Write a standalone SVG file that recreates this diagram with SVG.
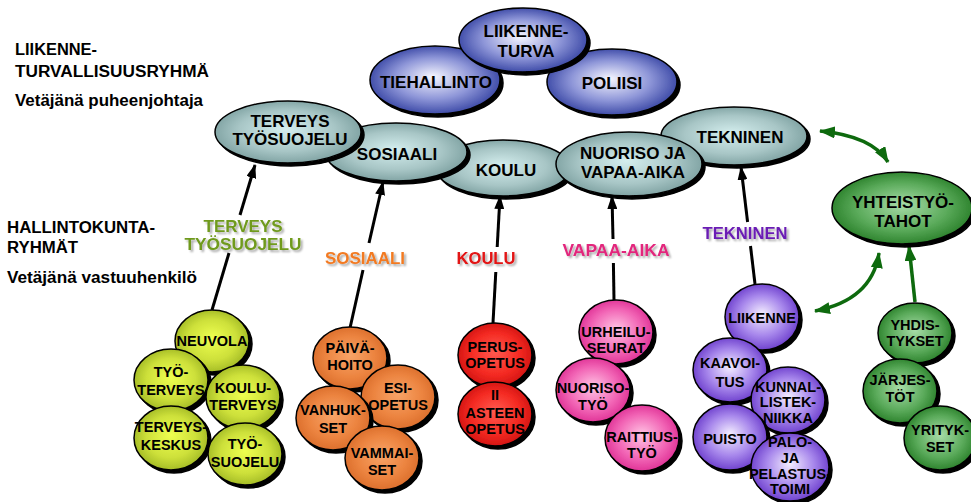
<svg xmlns="http://www.w3.org/2000/svg" width="971" height="502" viewBox="0 0 971 502">
<defs>
<style>
.t{font-family:"Liberation Sans",Arial,sans-serif;font-weight:bold;text-anchor:middle;fill:#000}
.big{font-size:17px}
.sm{font-size:14.5px}
.lt{font-family:"Liberation Sans",Arial,sans-serif;font-weight:bold;font-size:16px;fill:#000}
.lbl{font-family:"Liberation Sans",Arial,sans-serif;font-weight:bold;font-size:16.5px;text-anchor:middle}
.ol{stroke:#000;stroke-width:1.5}
.conn{stroke:#000;stroke-width:3;fill:none}
.gconn{stroke:#0e6a0e;stroke-width:3.5;fill:none}
</style>
<filter id="ds" x="-15%" y="-15%" width="135%" height="140%">
<feOffset in="SourceAlpha" dx="3" dy="3" result="o"/>
<feGaussianBlur in="o" stdDeviation="0.6" result="b"/>
<feMerge><feMergeNode in="b"/><feMergeNode in="SourceGraphic"/></feMerge>
</filter>
<filter id="ts" x="-10%" y="-20%" width="130%" height="150%">
<feOffset in="SourceAlpha" dx="1.5" dy="1.5" result="o"/>
<feGaussianBlur in="o" stdDeviation="0.8" result="b"/>
<feComponentTransfer in="b" result="c"><feFuncA type="linear" slope="0.35"/></feComponentTransfer>
<feMerge><feMergeNode in="c"/><feMergeNode in="SourceGraphic"/></feMerge>
</filter>
<radialGradient id="gBlue" cx="50%" cy="50%" r="55%" fx="48%" fy="45%">
<stop offset="0" stop-color="#f6f6ff"/><stop offset="0.55" stop-color="#8e96d8"/><stop offset="1" stop-color="#2e3c9e"/>
</radialGradient>
<radialGradient id="gGrey" cx="50%" cy="50%" r="55%" fx="48%" fy="45%">
<stop offset="0" stop-color="#d4eeee"/><stop offset="0.6" stop-color="#a8c6c6"/><stop offset="1" stop-color="#789c9c"/>
</radialGradient>
<radialGradient id="gYel" cx="50%" cy="50%" r="55%" fx="50%" fy="45%">
<stop offset="0" stop-color="#eeff50"/><stop offset="0.6" stop-color="#cde03a"/><stop offset="1" stop-color="#9cb422"/>
</radialGradient>
<radialGradient id="gOra" cx="50%" cy="50%" r="55%" fx="50%" fy="45%">
<stop offset="0" stop-color="#f8a468"/><stop offset="0.6" stop-color="#ec8440"/><stop offset="1" stop-color="#d86a28"/>
</radialGradient>
<radialGradient id="gRed" cx="50%" cy="50%" r="55%" fx="50%" fy="45%">
<stop offset="0" stop-color="#ff5a50"/><stop offset="0.6" stop-color="#f42a22"/><stop offset="1" stop-color="#cc1010"/>
</radialGradient>
<radialGradient id="gPink" cx="50%" cy="50%" r="55%" fx="50%" fy="45%">
<stop offset="0" stop-color="#ffc4e4"/><stop offset="0.6" stop-color="#f266b6"/><stop offset="1" stop-color="#dc2890"/>
</radialGradient>
<radialGradient id="gPur" cx="50%" cy="50%" r="55%" fx="50%" fy="45%">
<stop offset="0" stop-color="#f4eeff"/><stop offset="0.55" stop-color="#a888ec"/><stop offset="1" stop-color="#6434c8"/>
</radialGradient>
<radialGradient id="gGrn" cx="50%" cy="50%" r="55%" fx="50%" fy="45%">
<stop offset="0" stop-color="#a8dca8"/><stop offset="0.6" stop-color="#5aaa5a"/><stop offset="1" stop-color="#237a23"/>
</radialGradient>
<marker id="ab" viewBox="0 0 14 10" refX="13" refY="5" markerWidth="14" markerHeight="10" markerUnits="userSpaceOnUse" orient="auto">
<path d="M0,0 L14,5 L0,10 Z" fill="#000"/>
</marker>
<marker id="ag" viewBox="0 0 16 12" refX="15" refY="6" markerWidth="16" markerHeight="12" markerUnits="userSpaceOnUse" orient="auto-start-reverse">
<path d="M0,0 L16,6 L0,12 Z" fill="#0e6a0e"/>
</marker>
</defs>

<rect width="971" height="502" fill="#fff"/>

<g id="title-texts">
<text class="lt" x="15" y="55" textLength="82" lengthAdjust="spacingAndGlyphs">LIIKENNE-</text>
<text class="lt" x="15" y="77" textLength="194" lengthAdjust="spacingAndGlyphs">TURVALLISUUSRYHMÄ</text>
<text class="lt" x="15" y="106" textLength="188" lengthAdjust="spacingAndGlyphs">Vetäjänä puheenjohtaja</text>
<text class="lt" x="7" y="233" textLength="148" lengthAdjust="spacingAndGlyphs">HALLINTOKUNTA-</text>
<text class="lt" x="7" y="253" textLength="71" lengthAdjust="spacingAndGlyphs">RYHMÄT</text>
<text class="lt" x="7" y="283" textLength="190" lengthAdjust="spacingAndGlyphs">Vetäjänä vastuuhenkilö</text>
</g>

<g id="connectors">
<path class="conn" d="M212,310 L229,253"/>
<path class="conn" d="M240,215 L255,165" marker-end="url(#ab)"/>
<path class="conn" d="M350,328 L363,270"/>
<path class="conn" d="M369,243 L383,182" marker-end="url(#ab)"/>
<path class="conn" d="M493,323 L495.8,272"/>
<path class="conn" d="M497.2,247 L500,196" marker-end="url(#ab)"/>
<path class="conn" d="M614,300 L613.4,263"/>
<path class="conn" d="M613,239 L612,196" marker-end="url(#ab)"/>
<path class="conn" d="M755,284 L750.5,246"/>
<path class="conn" d="M747.6,222 L741,167" marker-end="url(#ab)"/>
<path class="gconn" d="M820,131 Q872,136 888,162" marker-start="url(#ag)" marker-end="url(#ag)"/>
<path class="gconn" d="M815,311 Q872,300 879,253" marker-start="url(#ag)" marker-end="url(#ag)"/>
<path class="gconn" d="M915,302 L909,246" marker-end="url(#ag)"/>
</g>

<g id="labels" filter="url(#ts)">
<text class="lbl" x="243" y="232" fill="#6f9a1e" textLength="79" lengthAdjust="spacingAndGlyphs">TERVEYS</text>
<text class="lbl" x="243" y="250" fill="#6f9a1e" textLength="117" lengthAdjust="spacingAndGlyphs">TYÖSUOJELU</text>
<text class="lbl" x="365" y="264" fill="#f27a22" textLength="80" lengthAdjust="spacingAndGlyphs">SOSIAALI</text>
<text class="lbl" x="486" y="264" fill="#e21212" textLength="59" lengthAdjust="spacingAndGlyphs">KOULU</text>
<text class="lbl" x="616" y="256" fill="#e2267c" textLength="107" lengthAdjust="spacingAndGlyphs">VAPAA-AIKA</text>
<text class="lbl" x="745" y="239" fill="#6a1cb4" textLength="85" lengthAdjust="spacingAndGlyphs">TEKNINEN</text>
</g>

<g id="tiehallinto">
<ellipse class="ol" cx="435" cy="80" rx="65" ry="34" fill="url(#gBlue)" filter="url(#ds)"/>
<text class="t big" x="436" y="88">TIEHALLINTO</text>
</g>
<g id="poliisi">
<ellipse class="ol" cx="612" cy="82" rx="65" ry="33" fill="url(#gBlue)" filter="url(#ds)"/>
<text class="t big" x="612" y="89">POLIISI</text>
</g>
<g id="liikenneturva">
<ellipse class="ol" cx="523" cy="40" rx="64" ry="32" fill="url(#gBlue)" filter="url(#ds)"/>
<text class="t big" x="526" y="37">LIIKENNE-</text>
<text class="t big" x="526" y="57">TURVA</text>
</g>

<g id="tekninen">
<ellipse class="ol" cx="734" cy="136" rx="73" ry="29" fill="url(#gGrey)" filter="url(#ds)"/>
<text class="t big" x="740" y="143">TEKNINEN</text>
</g>
<g id="koulu">
<ellipse class="ol" cx="503" cy="168" rx="67" ry="28" fill="url(#gGrey)" filter="url(#ds)"/>
<text class="t big" x="506" y="176">KOULU</text>
</g>
<g id="nuoriso">
<ellipse class="ol" cx="629" cy="164" rx="73" ry="32" fill="url(#gGrey)" filter="url(#ds)"/>
<text class="t big" x="633" y="159">NUORISO JA</text>
<text class="t big" x="633" y="177.5">VAPAA-AIKA</text>
</g>
<g id="sosiaali">
<ellipse class="ol" cx="396" cy="152" rx="71" ry="29" fill="url(#gGrey)" filter="url(#ds)"/>
<text class="t big" x="397" y="160">SOSIAALI</text>
</g>
<g id="terveys">
<ellipse class="ol" cx="288" cy="132" rx="73" ry="31" fill="url(#gGrey)" filter="url(#ds)"/>
<text class="t big" x="290" y="127">TERVEYS</text>
<text class="t big" x="290" y="145">TYÖSUOJELU</text>
</g>

<g id="neuvola">
<ellipse class="ol" cx="212" cy="341" rx="37" ry="31" fill="url(#gYel)" filter="url(#ds)"/>
<text class="t sm" x="212" y="346">NEUVOLA</text>
</g>
<g id="tyoterveys">
<ellipse class="ol" cx="171" cy="380" rx="37" ry="31" fill="url(#gYel)" filter="url(#ds)"/>
<text class="t sm" x="171" y="377">TYÖ-</text>
<text class="t sm" x="171" y="395">TERVEYS</text>
</g>
<g id="kouluterveys">
<ellipse class="ol" cx="243" cy="397" rx="37" ry="32" fill="url(#gYel)" filter="url(#ds)"/>
<text class="t sm" x="243" y="393">KOULU-</text>
<text class="t sm" x="243" y="410">TERVEYS</text>
</g>
<g id="terveyskeskus">
<ellipse class="ol" cx="171" cy="438" rx="37" ry="32" fill="url(#gYel)" filter="url(#ds)"/>
<text class="t sm" x="171" y="432">TERVEYS-</text>
<text class="t sm" x="171" y="450">KESKUS</text>
</g>
<g id="tyosuojelu">
<ellipse class="ol" cx="245" cy="454" rx="37" ry="31" fill="url(#gYel)" filter="url(#ds)"/>
<text class="t sm" x="245" y="449">TYÖ-</text>
<text class="t sm" x="245" y="467">SUOJELU</text>
</g>

<g id="paivahoito">
<ellipse class="ol" cx="350" cy="358" rx="37" ry="31" fill="url(#gOra)" filter="url(#ds)"/>
<text class="t sm" x="350" y="353">PÄIVÄ-</text>
<text class="t sm" x="350" y="370">HOITO</text>
</g>
<g id="esiopetus">
<ellipse class="ol" cx="398" cy="397" rx="37" ry="32" fill="url(#gOra)" filter="url(#ds)"/>
<text class="t sm" x="398" y="393">ESI-</text>
<text class="t sm" x="398" y="410">OPETUS</text>
</g>
<g id="vanhukset">
<ellipse class="ol" cx="333" cy="418" rx="37" ry="32" fill="url(#gOra)" filter="url(#ds)"/>
<text class="t sm" x="333" y="415">VANHUK-</text>
<text class="t sm" x="333" y="433">SET</text>
</g>
<g id="vammaiset">
<ellipse class="ol" cx="382" cy="458" rx="37" ry="32" fill="url(#gOra)" filter="url(#ds)"/>
<text class="t sm" x="382" y="458">VAMMAI-</text>
<text class="t sm" x="382" y="475">SET</text>
</g>

<g id="perusopetus">
<ellipse class="ol" cx="495" cy="355" rx="37" ry="32" fill="url(#gRed)" filter="url(#ds)"/>
<text class="t sm" x="495" y="352">PERUS-</text>
<text class="t sm" x="495" y="368">OPETUS</text>
</g>
<g id="iiasteen">
<ellipse class="ol" cx="495" cy="414" rx="37" ry="32" fill="url(#gRed)" filter="url(#ds)"/>
<text class="t sm" x="495" y="400">II</text>
<text class="t sm" x="495" y="418">ASTEEN</text>
<text class="t sm" x="495" y="434">OPETUS</text>
</g>

<g id="urheiluseurat">
<ellipse class="ol" cx="616" cy="332" rx="37" ry="32" fill="url(#gPink)" filter="url(#ds)"/>
<text class="t sm" x="616" y="337">URHEILU-</text>
<text class="t sm" x="616" y="353">SEURAT</text>
</g>
<g id="nuorisotyo">
<ellipse class="ol" cx="593" cy="390" rx="37" ry="32" fill="url(#gPink)" filter="url(#ds)"/>
<text class="t sm" x="593" y="393">NUORISO-</text>
<text class="t sm" x="593" y="410">TYÖ</text>
</g>
<g id="raittiustyo">
<ellipse class="ol" cx="642" cy="438" rx="37" ry="33" fill="url(#gPink)" filter="url(#ds)"/>
<text class="t sm" x="642" y="442">RAITTIUS-</text>
<text class="t sm" x="642" y="458">TYÖ</text>
</g>

<g id="liikenne">
<ellipse class="ol" cx="762" cy="317" rx="37" ry="33" fill="url(#gPur)" filter="url(#ds)"/>
<text class="t sm" x="762" y="323">LIIKENNE</text>
</g>
<g id="kaavoitus">
<ellipse class="ol" cx="730" cy="370" rx="37" ry="32" fill="url(#gPur)" filter="url(#ds)"/>
<text class="t sm" x="730" y="368">KAAVOI-</text>
<text class="t sm" x="730" y="387">TUS</text>
</g>
<g id="kunnallistekniikka">
<ellipse class="ol" cx="788" cy="400" rx="37" ry="33" fill="url(#gPur)" filter="url(#ds)"/>
<text class="t sm" x="788" y="392">KUNNAL-</text>
<text class="t sm" x="788" y="407">LISTEK-</text>
<text class="t sm" x="788" y="423">NIIKKA</text>
</g>
<g id="puisto">
<ellipse class="ol" cx="730" cy="437" rx="37" ry="33" fill="url(#gPur)" filter="url(#ds)"/>
<text class="t sm" x="730" y="444">PUISTO</text>
</g>
<g id="pelastustoimi">
<ellipse class="ol" cx="790" cy="467" rx="39" ry="34" fill="url(#gPur)" filter="url(#ds)"/>
<text class="t sm" x="790" y="447">PALO-</text>
<text class="t sm" x="790" y="463">JA</text>
<text class="t sm" x="790" y="479">PELASTUS-</text>
<text class="t sm" x="790" y="494">TOIMI</text>
</g>

<g id="yhteistyotahot">
<ellipse class="ol" cx="902" cy="208" rx="70" ry="36" fill="url(#gGrn)" filter="url(#ds)"/>
<text class="t big" x="903" y="208">YHTEISTYÖ-</text>
<text class="t big" x="903" y="227">TAHOT</text>
</g>
<g id="yhdistykset">
<ellipse class="ol" cx="915" cy="333" rx="37" ry="30" fill="url(#gGrn)" filter="url(#ds)"/>
<text class="t sm" x="915" y="330">YHDIS-</text>
<text class="t sm" x="915" y="346">TYKSET</text>
</g>
<g id="jarjestot">
<ellipse class="ol" cx="900" cy="391" rx="37" ry="32" fill="url(#gGrn)" filter="url(#ds)"/>
<text class="t sm" x="900" y="385">JÄRJES-</text>
<text class="t sm" x="900" y="402">TÖT</text>
</g>
<g id="yritykset">
<ellipse class="ol" cx="940" cy="438" rx="36" ry="32" fill="url(#gGrn)" filter="url(#ds)"/>
<text class="t sm" x="940" y="435">YRITYK-</text>
<text class="t sm" x="940" y="452">SET</text>
</g>
</svg>
